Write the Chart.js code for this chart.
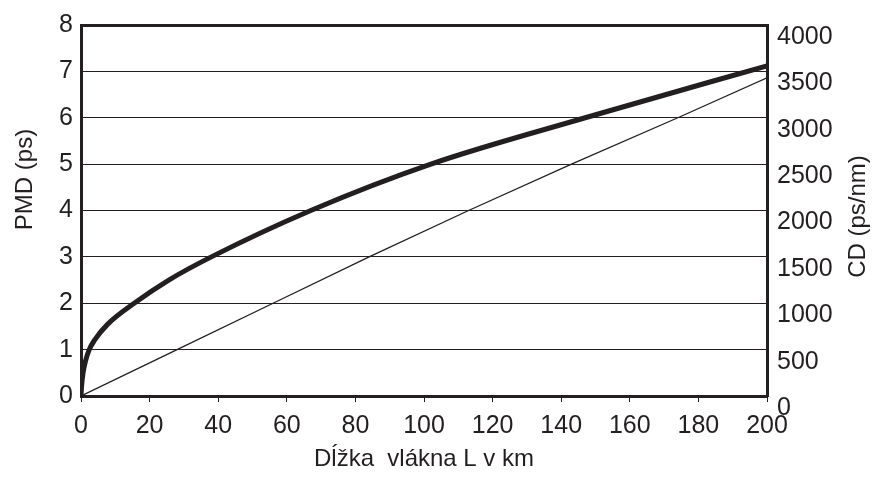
<!DOCTYPE html>
<html>
<head>
<meta charset="utf-8">
<script src="https://cdn.jsdelivr.net/npm/chart.js@4/dist/chart.umd.min.js"></script>
<style>
  html, body { margin: 0; padding: 0; background: #fff; }
  #wrap { width: 872px; height: 490px; }
</style>
</head>
<body>
<div id="wrap"><canvas id="fiberChart"></canvas></div>
<script>
// fibre length in km
const PMD_LENGTH = [0, 0.15, 0.6, 1.3, 2.4, 4, 7.8, 15.5, 25.6, 38, 67, 102, 147, 200];
// PMD in ps (thick curve)
const PMD_VALUES = [0, 0.2, 0.5, 0.75, 1.0, 1.21, 1.55, 2.0, 2.5, 3.0, 4.0, 5.0, 6.0, 7.12];

// CD in ps/nm (thin line)
const CD_LENGTH = [0, 28, 56, 84, 113, 143, 174, 200];
const CD_VALUES = [0, 500, 1000, 1500, 2000, 2500, 3000, 3430];

const X_TITLE = 'Dĺžka  vlákna L v km';
const Y_TITLE = 'PMD (ps)';
const Y1_TITLE = 'CD (ps/nm)';

const INK = '#231f20';
const FONT_FAMILY = '"Liberation Sans", Arial, sans-serif';
const TICK_FONT = { family: FONT_FAMILY, size: 25 };
const TITLE_FONT = { family: FONT_FAMILY, size: 24 };

function toPoints(xs, ys) {
  return xs.map((x, i) => ({ x: x, y: ys[i] }));
}

// both vertical titles read bottom-to-top, Chart.js turns the right one the other way
const sideTitles = {
  id: 'sideTitles',
  afterDraw(chart) {
    const ctx = chart.ctx;
    const area = chart.chartArea;
    const mid = (area.top + area.bottom) / 2;
    ctx.save();
    ctx.fillStyle = INK;
    ctx.font = TITLE_FONT.size + 'px ' + FONT_FAMILY;
    ctx.textAlign = 'center';
    ctx.textBaseline = 'middle';
    [[Y_TITLE, 25, mid - 31], [Y1_TITLE, 858, mid + 6]].forEach(([text, x, y]) => {
      ctx.save();
      ctx.translate(x, y);
      ctx.rotate(-Math.PI / 2);
      ctx.fillText(text, 0, 0);
      ctx.restore();
    });
    ctx.restore();
  }
};

new Chart(document.getElementById('fiberChart'), {
  type: 'line',
  data: {
    datasets: [
      {
        label: 'PMD',
        data: toPoints(PMD_LENGTH, PMD_VALUES),
        yAxisID: 'y',
        borderColor: INK,
        borderWidth: 5,
        pointRadius: 0,
        cubicInterpolationMode: 'monotone',
        fill: false
      },
      {
        label: 'CD',
        data: toPoints(CD_LENGTH, CD_VALUES),
        yAxisID: 'y1',
        borderColor: INK,
        borderWidth: 1.3,
        pointRadius: 0,
        fill: false
      }
    ]
  },
  options: {
    responsive: true,
    maintainAspectRatio: false,
    animation: false,
    layout: { padding: { top: 14, left: 0, right: 0, bottom: 0 } },
    plugins: {
      legend: { display: false },
      tooltip: { enabled: false }
    },
    scales: {
      x: {
        type: 'linear',
        min: 0,
        max: 200,
        afterFit: (scale) => { scale.height = 94; },
        ticks: { stepSize: 20, color: INK, font: TICK_FONT, padding: 9, maxRotation: 0 },
        grid: { drawOnChartArea: false, drawTicks: true, tickLength: 6, color: INK, lineWidth: 1 },
        border: { display: true, color: INK, width: 3 },
        title: { display: true, text: X_TITLE, color: INK, font: TITLE_FONT, padding: { top: 0, bottom: 16 } }
      },
      y: {
        type: 'linear',
        position: 'left',
        min: 0,
        max: 8,
        afterFit: (scale) => { scale.width = 81; },
        ticks: { stepSize: 1, color: INK, font: TICK_FONT, padding: 8 },
        grid: {
          drawTicks: false,
          color: INK,
          lineWidth: (ctx) => ctx.tick && ctx.tick.value === 8 ? 3 : 1
        },
        border: { display: true, color: INK, width: 3 }
      },
      y1: {
        type: 'linear',
        position: 'right',
        min: 0,
        max: 4000,
        afterFit: (scale) => { scale.width = 105; },
        ticks: {
          stepSize: 500,
          color: INK,
          font: TICK_FONT,
          padding: 10,
          labelOffset: 12,
          callback: (value) => String(value)
        },
        grid: { drawOnChartArea: false, drawTicks: false },
        border: { display: true, color: INK, width: 3 }
      }
    }
  },
  plugins: [sideTitles]
});
</script>
</body>
</html>
